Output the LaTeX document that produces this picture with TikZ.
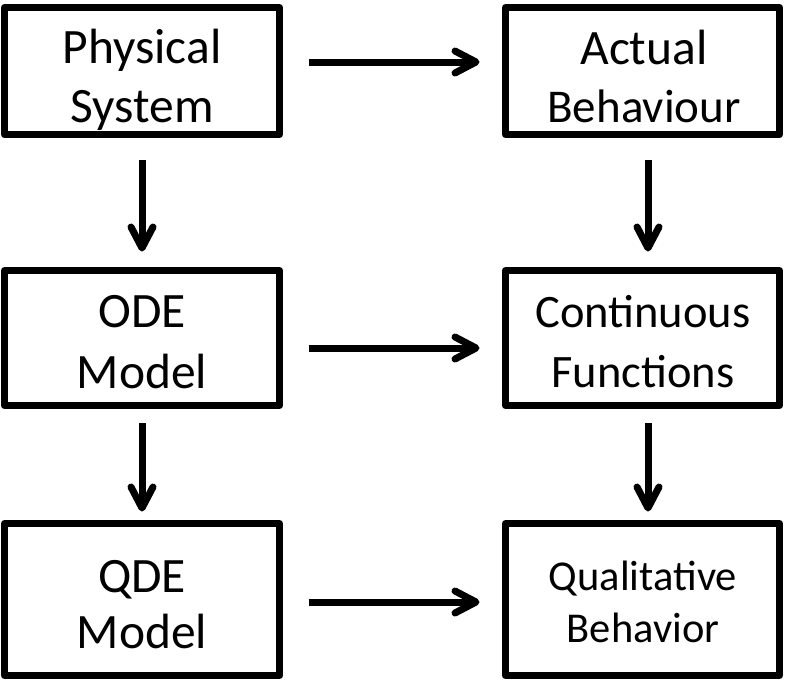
\documentclass[tikz,border=0pt]{standalone}
\usepackage{fontspec}
\setmainfont{Carlito}
\usetikzlibrary{arrows.meta}
\begin{document}
\begin{tikzpicture}[x=1pt,y=-1pt,
  box/.style={draw=black,line width=7pt,line join=round,rectangle,inner sep=0pt,minimum width=#1},
  txt/.style={anchor=base,inner sep=0pt,font=\fontsize{49.5}{58}\selectfont},
  arr/.style={line width=7pt,-{Straight Barb[length=21pt,width=22pt,round]}}]
\useasboundingbox (0,0) rectangle (786,681);
% boxes
\node[box=275pt,minimum height=127pt] (ps) at (142,71) {};
\node[box=274pt,minimum height=127pt] (ab) at (642.5,71) {};
\node[box=275pt,minimum height=135pt] (ode) at (142,338) {};
\node[box=274pt,minimum height=135pt] (cf) at (642.5,338) {};
\node[box=275pt,minimum height=152pt] (qde) at (142,599.5) {};
\node[box=274pt,minimum height=152pt] (qb) at (642.5,599.5) {};
% texts
\node[txt] (ps1) at (142,63) {Physical};
\node[txt] (ps2) at (142,122) {System};
\node[txt] (ab1) at (644,64) {Actual};
\node[txt,font=\fontsize{47}{56}\selectfont] (ab2) at (644,122) {Behaviour};
\node[txt] (ode1) at (142,327) {ODE};
\node[txt] (ode2) at (142,388) {Model};
\node[txt,font=\fontsize{46.5}{56}\selectfont] (cf1) at (643,327) {Continuous};
\node[txt,font=\fontsize{46.5}{56}\selectfont] (cf2) at (643,387) {Functions};
\node[txt] (qde1) at (142,592) {QDE};
\node[txt] (qde2) at (142,648) {Model};
\node[txt,font=\fontsize{42.5}{52}\selectfont] (qb1) at (643,590) {Qualitative};
\node[txt,font=\fontsize{42.5}{52}\selectfont] (qb2) at (643,642) {Behavior};
% horizontal arrows
\draw[arr,shorten <=25.5pt,shorten >=22.5pt] ([yshift=9pt]ps.east) -- ([yshift=9pt]ab.west);
\draw[arr,shorten <=25.5pt,shorten >=22.5pt] ([yshift=-10pt]ode.east) -- ([yshift=-10pt]cf.west);
\draw[arr,shorten <=25.5pt,shorten >=22.5pt] ([yshift=-2.5pt]qde.east) -- ([yshift=-2.5pt]qb.west);
% vertical arrows
\draw[arr,shorten <=22pt,shorten >=15.5pt] (ps.south) -- (ode.north);
\draw[arr,shorten <=22pt,shorten >=15.5pt] ([xshift=5.5pt]ab.south) -- ([xshift=5.5pt]cf.north);
\draw[arr,shorten <=14pt,shorten >=8.5pt] (ode.south) -- (qde.north);
\draw[arr,shorten <=14pt,shorten >=8.5pt] ([xshift=5.5pt]cf.south) -- ([xshift=5.5pt]qb.north);
\end{tikzpicture}
\end{document}
